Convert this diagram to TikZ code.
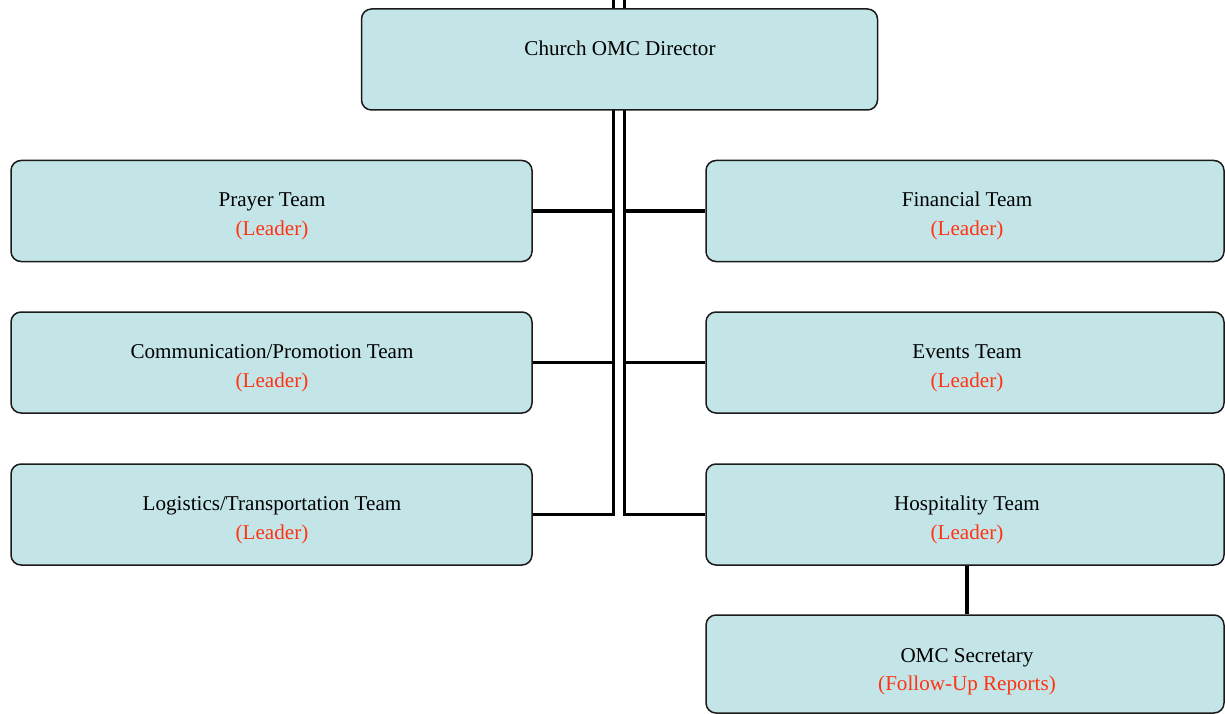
\documentclass[tikz,border=0pt]{standalone}
\usepackage{fontspec}
\setmainfont{Liberation Serif}
\usetikzlibrary{backgrounds,calc}
\definecolor{boxfill}{HTML}{C4E5E8}
\definecolor{boxline}{HTML}{1A1A1A}
\definecolor{leadred}{HTML}{FF3311}
\tikzset{
  box/.style={draw=boxline, line width=1.5pt, fill=boxfill, rounded corners=10pt, inner sep=0pt},
  ttl/.style={anchor=base, inner sep=0pt, font=\fontsize{21.1}{25}\selectfont, text=black},
  sub/.style={anchor=base, inner sep=0pt, font=\fontsize{21.1}{25}\selectfont, text=leadred},
  conn/.style={line width=3.7pt, draw=black}
}
\begin{document}
\begin{tikzpicture}[x=1pt,y=-1pt]
\useasboundingbox (0,0) rectangle (1225,714);
% boxes
\node[box, minimum width=516pt, minimum height=101pt] (dir) at (619.5,59.5) {};
\node[box, minimum width=521pt, minimum height=101pt] (prayer) at (271.5,211) {};
\node[box, minimum width=521pt, minimum height=101pt] (comm) at (271.5,362.5) {};
\node[box, minimum width=521pt, minimum height=101pt] (logi) at (271.5,514.5) {};
\node[box, minimum width=518pt, minimum height=101pt] (fin) at (965,211) {};
\node[box, minimum width=518pt, minimum height=101pt] (event) at (965,362.5) {};
\node[box, minimum width=518pt, minimum height=101pt] (hosp) at (965,514.5) {};
\node[box, minimum width=518pt, minimum height=98pt] (sec) at (965,664) {};
% texts
\node[ttl] (dir-t) at (620,56) {Church OMC Director};
\node[ttl] (prayer-t) at (272,207) {Prayer Team};
\node[sub] (prayer-s) at (272,235.5) {(Leader)};
\node[ttl] (comm-t) at (272,358.5) {Communication/Promotion Team};
\node[sub] (comm-s) at (272,387) {(Leader)};
\node[ttl] (logi-t) at (272,510.5) {Logistics/Transportation Team};
\node[sub] (logi-s) at (272,539) {(Leader)};
\node[ttl] (fin-t) at (967,207) {Financial Team};
\node[sub] (fin-s) at (967,235.5) {(Leader)};
\node[ttl] (event-t) at (967,358.5) {Events Team};
\node[sub] (event-s) at (967,387) {(Leader)};
\node[ttl] (hosp-t) at (967,510.5) {Hospitality Team};
\node[sub] (hosp-s) at (967,539) {(Leader)};
\node[ttl] (sec-t) at (967,662) {OMC Secretary};
\node[sub] (sec-s) at (967,690.5) {(Follow-Up Reports)};
% connectors
\coordinate (ltop) at (613.5,0);
\coordinate (rtop) at (624.5,0);
\begin{pgfonlayer}{background}
\draw[conn] (ltop) |- (logi.east);
\draw[conn] (rtop) |- (hosp.west);
\draw[conn] (prayer.east) -- (prayer.east -| ltop);
\draw[conn] (comm.east) -- (comm.east -| ltop);
\draw[conn] (fin.west) -- (fin.west -| rtop);
\draw[conn] (event.west) -- (event.west -| rtop);
\draw[conn] ([xshift=2pt]hosp.south) -- ([xshift=2pt]sec.north);
\end{pgfonlayer}
\end{tikzpicture}
\end{document}
